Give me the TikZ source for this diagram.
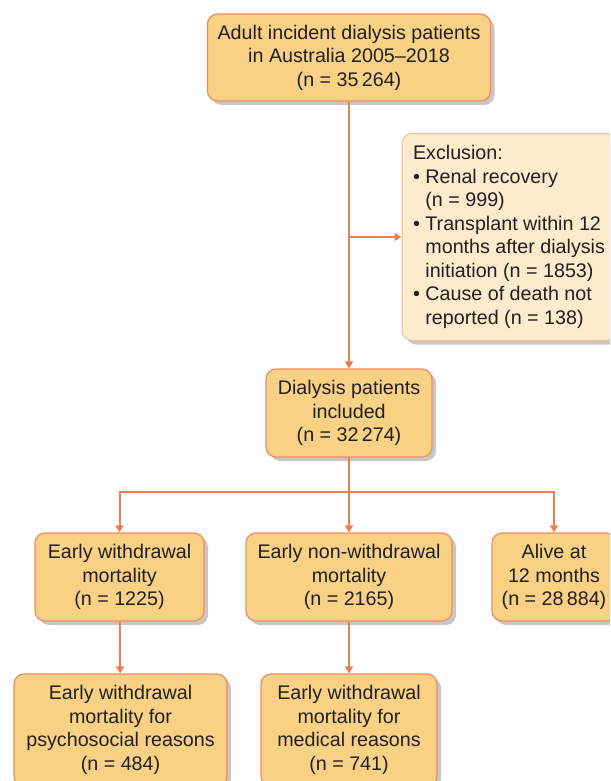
\documentclass[tikz,border=0pt]{standalone}
\usepackage{fontspec}
\setmainfont{Liberation Sans}
\usetikzlibrary{shadows,arrows.meta}
\definecolor{cajafondo}{RGB}{249,209,132}
\definecolor{cajaborde}{RGB}{240,140,92}
\definecolor{linea}{RGB}{238,126,80}
\definecolor{exclfondo}{RGB}{253,235,205}
\definecolor{exclborde}{RGB}{246,188,142}
\definecolor{texto}{RGB}{35,31,32}

\begin{document}
\begin{tikzpicture}[x=1pt,y=-1pt,
  every node/.style={font=\fontsize{19.7}{23.5}\selectfont,text=texto},
  sombra/.style={drop shadow={shadow xshift=4pt,shadow yshift=-4pt,fill=black!22,opacity=1}},
  caja/.style={draw=cajaborde,line width=1.2pt,fill=cajafondo,rounded corners=10pt,
    align=center,inner sep=0pt,minimum height=88pt,sombra},
  conector/.style={draw=linea,line width=2pt},
  flecha/.style={conector,-{Triangle[length=7pt,width=8pt]}}]
\clip (0,0) rectangle (610,781);
%
% cajas
\node[caja,minimum width=283pt,minimum height=87pt] (inicial) at (349,57.5)
  {Adult incident dialysis patients\\in Australia 2005--2018\\(n = 35\,264)};
\node[caja,draw=exclborde,fill=exclfondo,line width=1pt,align=left,
  minimum width=214pt,minimum height=207pt] (excl) at (509,237)
  {Exclusion:\\
   • Renal recovery\\
   \phantom{•} (n = 999)\\
   • Transplant within 12\\
   \phantom{•} months after dialysis\\
   \phantom{•} initiation (n = 1853)\\
   • Cause of death not\\
   \phantom{•} reported (n = 138)};
\node[caja,minimum width=166pt] (incluidos) at (349,413)
  {Dialysis patients\\included\\(n = 32\,274)};
\node[caja,minimum width=169pt] (retiro) at (119.5,577)
  {Early withdrawal\\mortality\\(n = 1225)};
\node[caja,minimum width=206pt] (noretiro) at (349,577)
  {Early non-withdrawal\\mortality\\(n = 2165)};
\node[caja,minimum width=124pt] (vivos) at (554,577)
  {Alive at\\12 months\\(n = 28\,884)};
\node[caja,minimum width=213pt,minimum height=112pt] (psico) at (120.5,730)
  {Early withdrawal\\mortality for\\psychosocial reasons\\(n = 484)};
\node[caja,minimum width=176pt,minimum height=112pt] (medico) at (349,730)
  {Early withdrawal\\mortality for\\medical reasons\\(n = 741)};
%
% conectores
\coordinate (salida) at (349,237);
\coordinate (reparto) at (349,492);
\draw[flecha] (inicial) -- (incluidos);
\draw[flecha] (salida) -- (excl);
\draw[conector] (incluidos) -- (reparto);
\foreach \destino in {retiro,noretiro,vivos}
\draw[flecha] (reparto) -| (\destino.north);
\draw[flecha] (retiro) -- (psico);
\draw[flecha] (noretiro) -- (medico);
\end{tikzpicture}
\end{document}
